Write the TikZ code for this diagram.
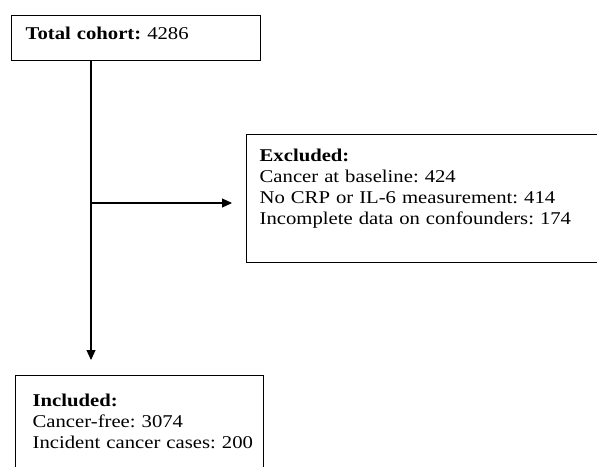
\documentclass[tikz,border=0pt]{standalone}
\usepackage{fontspec}
\setmainfont{Liberation Serif}[FakeStretch=1.15]
\frenchspacing
\usetikzlibrary{arrows.meta}
\begin{document}
\begin{tikzpicture}[x=1pt,y=-1pt,
  box/.style={draw=black, line width=1.3pt, anchor=north west, inner ysep=0pt,
    align=left, font=\frenchspacing\fontsize{18}{21}\selectfont},
  arr/.style={line width=1.1pt, -{Triangle[length=10pt,width=9pt]}}]
\clip (0,0) rectangle (597,466);
\fill[white] (0,0) rectangle (597,466);
\node[box, inner xsep=14pt, text width=221pt, text height=24pt, text depth=21pt]
  (total) at (11,15) {\textbf{Total cohort:} 4286};
\node[box, inner xsep=13pt, text width=343pt, text height=27pt, text depth=101pt]
  (excl) at (246,134) {\textbf{Excluded:}\\Cancer at baseline: 424\\No CRP or IL-6 measurement: 414\\Incomplete data on confounders: 174};
\node[box, inner xsep=17pt, text width=214pt, text height=31pt, text depth=76pt]
  (incl) at (15,375) {\textbf{Included:}\\\mbox{Cancer-free: 3074}\\\mbox{Incident cancer cases: 200}};
\coordinate (split) at (91,203);
\draw[arr, shorten >=15pt] (total.south -| split) -- (incl.north -| split);
\draw[arr, shorten >=14pt] (split) -- (excl.west |- split);
\end{tikzpicture}
\end{document}
